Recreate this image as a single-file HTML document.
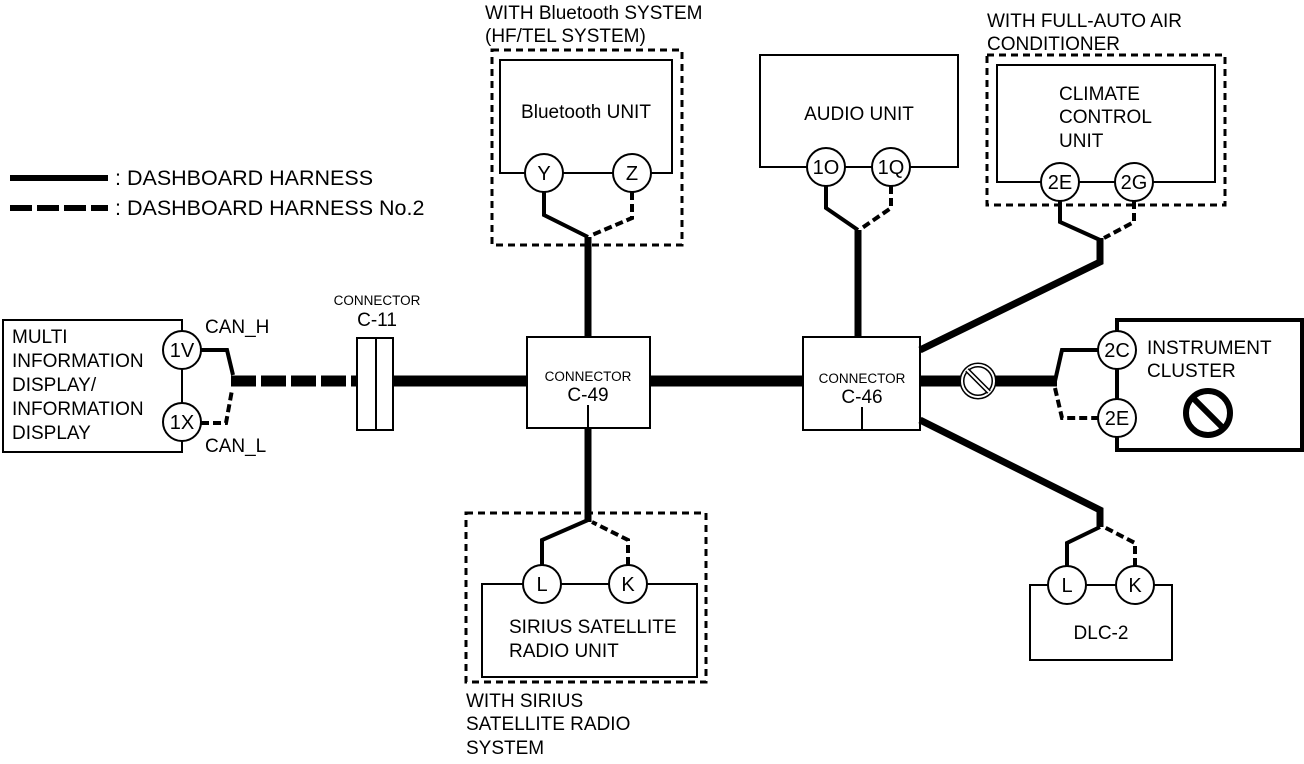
<!DOCTYPE html>
<html><head><style>
body{margin:0;background:#fff}
svg{display:block}
text{font-family:"Liberation Sans",sans-serif;font-size:19px;fill:#000}
.s{font-size:13.5px}
.c{font-size:20px}
.l{font-size:21.5px}
</style></head><body>
<svg width="1304" height="764" viewBox="0 0 1304 764" xmlns="http://www.w3.org/2000/svg">
<g fill="none" stroke="#000">
<line x1="10" y1="178" x2="108" y2="178" stroke-width="6"/>
<line x1="10" y1="208" x2="108" y2="208" stroke-width="6" stroke-dasharray="22,5"/>
<polyline points="182,331 182,320 3,320 3,452 182,452 182,441" stroke-width="2"/>
<line x1="182" y1="369" x2="182" y2="403" stroke-width="2"/>
<circle cx="182" cy="350" r="19" fill="#fff" stroke-width="2"/>
<circle cx="182" cy="422" r="19" fill="#fff" stroke-width="2"/>
<polyline points="201,350 227,350 233,375" stroke-width="4"/>
<polyline points="201,423 226,423 232,390" stroke-width="4" stroke-dasharray="8,4"/>
<line x1="231" y1="381" x2="357" y2="381" stroke-width="11" stroke-dasharray="25,5"/>
<rect x="357" y="338" width="19" height="92" stroke-width="2" fill="#fff"/>
<rect x="376" y="338" width="17" height="92" stroke-width="2" fill="#fff"/>
<line x1="393" y1="381" x2="527" y2="381" stroke-width="11"/>
<line x1="650" y1="381" x2="803" y2="381" stroke-width="11"/>
<line x1="920" y1="381" x2="1057" y2="381" stroke-width="11"/>
<rect x="527" y="337" width="123" height="91" stroke-width="2"/>
<line x1="588" y1="405" x2="588" y2="428" stroke-width="2"/>
<line x1="588" y1="237" x2="588" y2="337" stroke-width="7"/>
<line x1="588" y1="428" x2="588" y2="522" stroke-width="7"/>
<rect x="803" y="337" width="117" height="93" stroke-width="2"/>
<line x1="862" y1="407" x2="862" y2="430" stroke-width="2"/>
<line x1="858" y1="230" x2="858" y2="337" stroke-width="7"/>
<rect x="492" y="50" width="190" height="195" stroke-width="3" stroke-dasharray="7,5"/>
<rect x="500" y="60" width="172" height="113" stroke-width="2" fill="#fff"/>
<polyline points="544,192 544,215 588,237" stroke-width="4"/>
<polyline points="632,192 632,218 592,235" stroke-width="4" stroke-dasharray="8,4"/>
<circle cx="544" cy="173" r="19" fill="#fff" stroke-width="2"/>
<circle cx="632" cy="173" r="19" fill="#fff" stroke-width="2"/>
<rect x="760" y="55" width="198" height="112" stroke-width="2"/>
<polyline points="826,186 826,208 858,230" stroke-width="4"/>
<polyline points="891,186 891,208 862,228" stroke-width="4" stroke-dasharray="8,4"/>
<circle cx="826" cy="167" r="19" fill="#fff" stroke-width="2"/>
<circle cx="891" cy="167" r="19" fill="#fff" stroke-width="2"/>
<rect x="987" y="55" width="238" height="150" stroke-width="3" stroke-dasharray="7,5"/>
<rect x="997" y="65" width="218" height="117" stroke-width="2" fill="#fff"/>
<polyline points="1060,201 1060,222 1100,240" stroke-width="4"/>
<polyline points="1134,201 1134,222 1104,238" stroke-width="4" stroke-dasharray="8,4"/>
<polyline points="1100,238 1100,262 920,350" stroke-width="7"/>
<circle cx="1060" cy="182" r="19" fill="#fff" stroke-width="2"/>
<circle cx="1134" cy="182" r="19" fill="#fff" stroke-width="2"/>
<polyline points="1117,331 1117,320 1302,320 1302,450 1117,450 1117,437" stroke-width="4"/>
<line x1="1117" y1="369" x2="1117" y2="399" stroke-width="4"/>
<polyline points="1055,381 1062,350 1098,350" stroke-width="4"/>
<polyline points="1055,388 1062,418 1098,418" stroke-width="4" stroke-dasharray="8,4"/>
<circle cx="1117" cy="350" r="19" fill="#fff" stroke-width="2"/>
<circle cx="1117" cy="418" r="19" fill="#fff" stroke-width="2"/>
<circle cx="978" cy="381" r="16" fill="#fff" stroke-width="5"/>
<circle cx="978" cy="381" r="16" stroke="#fff" stroke-width="2"/>
<line x1="967" y1="370" x2="989" y2="392" stroke-width="5"/>
<line x1="967" y1="370" x2="989" y2="392" stroke="#fff" stroke-width="2"/>
<circle cx="1208" cy="413" r="22" stroke-width="6"/>
<line x1="1193" y1="398" x2="1223" y2="428" stroke-width="6"/>
<polyline points="920,420 1100,510 1100,527" stroke-width="7"/>
<rect x="1030" y="585" width="142" height="75" stroke-width="2"/>
<polyline points="1067,566 1067,543 1100,527" stroke-width="4"/>
<polyline points="1135,566 1135,543 1104,527" stroke-width="4" stroke-dasharray="8,4"/>
<circle cx="1067" cy="585" r="19" fill="#fff" stroke-width="2"/>
<circle cx="1135" cy="585" r="19" fill="#fff" stroke-width="2"/>
<rect x="466" y="513" width="240" height="169" stroke-width="3" stroke-dasharray="7,5"/>
<rect x="482" y="584" width="215" height="93" stroke-width="2" fill="#fff"/>
<polyline points="542,565 542,540 588,520" stroke-width="4"/>
<polyline points="628,565 628,540 592,522" stroke-width="4" stroke-dasharray="8,4"/>
<circle cx="542" cy="584" r="19" fill="#fff" stroke-width="2"/>
<circle cx="628" cy="584" r="19" fill="#fff" stroke-width="2"/>
</g>
<g>
<text class="l" x="115" y="185">: DASHBOARD HARNESS</text>
<text class="l" x="115" y="215">: DASHBOARD HARNESS No.2</text>
<text x="12" y="343">MULTI</text>
<text x="12" y="367">INFORMATION</text>
<text x="12" y="391">DISPLAY/</text>
<text x="12" y="415">INFORMATION</text>
<text x="12" y="439">DISPLAY</text>
<text class="c" x="182" y="357" text-anchor="middle">1V</text>
<text class="c" x="182" y="429" text-anchor="middle">1X</text>
<text x="205" y="333">CAN_H</text>
<text x="205" y="452">CAN_L</text>
<text class="s" x="377" y="305" text-anchor="middle">CONNECTOR</text>
<text x="377" y="326" text-anchor="middle">C-11</text>
<text class="s" x="588" y="381" text-anchor="middle">CONNECTOR</text>
<text x="588" y="401" text-anchor="middle">C-49</text>
<text class="s" x="862" y="383" text-anchor="middle">CONNECTOR</text>
<text x="862" y="403" text-anchor="middle">C-46</text>
<text x="485" y="19">WITH Bluetooth SYSTEM</text>
<text x="485" y="42">(HF/TEL SYSTEM)</text>
<text x="586" y="118" text-anchor="middle">Bluetooth UNIT</text>
<text class="c" x="544" y="180" text-anchor="middle">Y</text>
<text class="c" x="632" y="180" text-anchor="middle">Z</text>
<text x="859" y="120" text-anchor="middle">AUDIO UNIT</text>
<text class="c" x="826" y="174" text-anchor="middle">1O</text>
<text class="c" x="891" y="174" text-anchor="middle">1Q</text>
<text x="987" y="27">WITH FULL-AUTO AIR</text>
<text x="987" y="50">CONDITIONER</text>
<text x="1059" y="100">CLIMATE</text>
<text x="1059" y="123">CONTROL</text>
<text x="1059" y="147">UNIT</text>
<text class="c" x="1060" y="189" text-anchor="middle">2E</text>
<text class="c" x="1134" y="189" text-anchor="middle">2G</text>
<text x="1147" y="354">INSTRUMENT</text>
<text x="1147" y="377">CLUSTER</text>
<text class="c" x="1117" y="357" text-anchor="middle">2C</text>
<text class="c" x="1117" y="425" text-anchor="middle">2E</text>
<text class="c" x="1067" y="592" text-anchor="middle">L</text>
<text class="c" x="1135" y="592" text-anchor="middle">K</text>
<text x="1101" y="639" text-anchor="middle">DLC-2</text>
<text class="c" x="542" y="591" text-anchor="middle">L</text>
<text class="c" x="628" y="591" text-anchor="middle">K</text>
<text x="509" y="633">SIRIUS SATELLITE</text>
<text x="509" y="657">RADIO UNIT</text>
<text x="466" y="707">WITH SIRIUS</text>
<text x="466" y="730">SATELLITE RADIO</text>
<text x="466" y="754">SYSTEM</text>
</g>
</svg>
</body></html>
